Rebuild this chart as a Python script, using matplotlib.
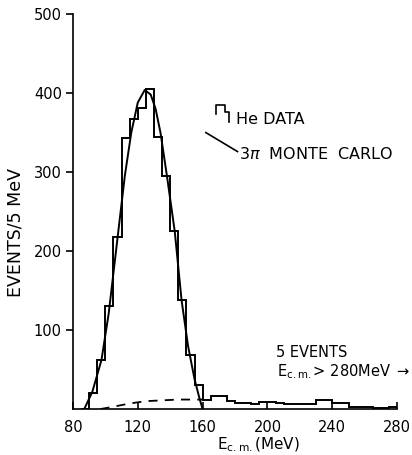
import numpy as np
import matplotlib
matplotlib.use("Agg")
import matplotlib.pyplot as plt

plt.rcParams['font.family'] = ['DejaVu Sans']

# Histogram: 5 MeV bins, left edges from 85 to 275 MeV
bin_left = list(range(85, 280, 5))
counts = [0, 20, 62, 130, 218, 343, 367, 381, 405, 345, 295, 225, 138, 68, 30,
          12, 17, 16, 10, 8, 8, 6, 9, 9, 8, 7, 7, 7, 7, 11, 11, 8, 8, 3, 2, 2,
          1, 1, 3]

# 3-pi Monte Carlo prediction (solid) and its background part (dashed)
mc_energy = [87, 92, 97.6, 102, 107.6, 112, 116, 120, 124.3, 128, 131, 134,
             138, 142.8, 147, 151, 155, 158, 160]
mc_counts = [0, 22, 62, 120, 218, 295, 350, 388, 404, 398, 380, 350,
             295, 225, 138, 80, 38, 14, 0]
bg_energy = [97, 105, 115, 125, 135, 145, 160]
bg_counts = [0, 3, 7, 10, 11, 12, 12]

x_ticks = [80, 120, 160, 200, 240, 280]
y_ticks = [100, 200, 300, 400, 500]

fig = plt.figure(figsize=(4.12, 4.55), dpi=100)
ax = fig.add_axes([0.177, 0.101, 0.787, 0.868])

edges = bin_left + [bin_left[-1] + 5]
ax.stairs(counts, edges, color='black', lw=1.4, baseline=0)
ax.plot(mc_energy, mc_counts, color='black', lw=1.4)
ax.plot(bg_energy, bg_counts, color='black', lw=1.3, ls=(0, (5, 4)))

ax.set_xlim(80, 280)
ax.set_ylim(0, 500)
ax.spines['top'].set_visible(False)
ax.spines['right'].set_visible(False)
for s in ('left', 'bottom'):
    ax.spines[s].set_linewidth(1.2)

ax.set_xticks(x_ticks)
ax.set_yticks(y_ticks)
ax.tick_params(axis='x', direction='in', length=5, width=1.2, labelsize=10.5, pad=8)
ax.tick_params(axis='y', direction='out', length=5, width=1.2, labelsize=10.5, pad=3)

fig.text(0.038, 0.49, 'EVENTS/5 MeV', rotation=90, ha='center', va='center', fontsize=12.5)
fig.text(0.627, 0.012, r'E$_{\rm c.m.}$(MeV)', ha='center', va='baseline', fontsize=11)

# Hand-drawn key: histogram step and Monte Carlo line
ax.plot([168.2, 168.2, 173.8, 173.8, 176.3, 176.3], [373, 385, 385, 376, 376, 364],
        color='black', lw=1.2)
ax.text(180.5, 366, 'He DATA', fontsize=11.5, va='center', ha='left')
ax.plot([162, 181.5], [350, 326], color='black', lw=1.2)
ax.text(182.5, 323, r'3$\pi$  MONTE  CARLO', fontsize=11.5, va='center', ha='left')

ax.text(205, 72, '5 EVENTS', fontsize=10.5, va='center', ha='left')
ax.text(206, 47, r'E$_{\rm c.m.}$> 280MeV $\rightarrow$', fontsize=10.5, va='center', ha='left')

fig.savefig('out.png', dpi=100)
